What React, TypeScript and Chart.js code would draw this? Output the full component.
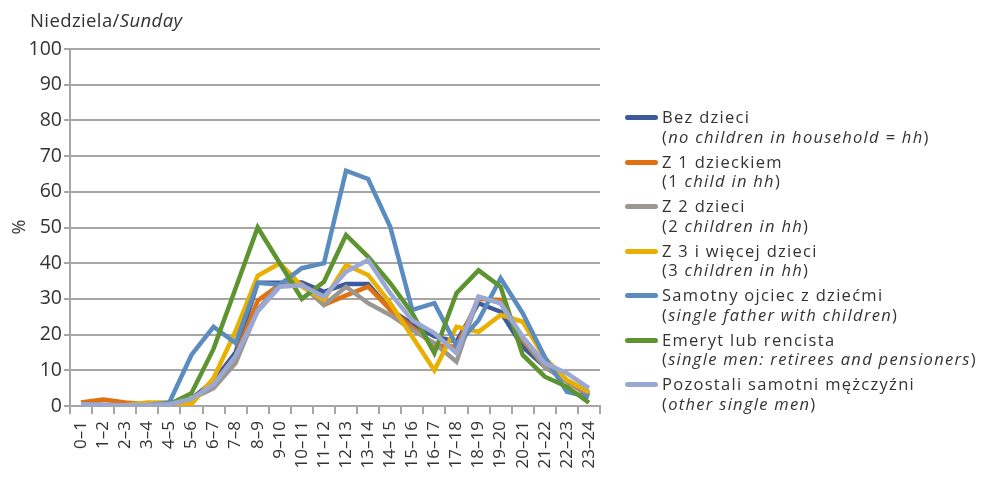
import React, { useEffect, useRef } from "react";
import { Chart, registerables } from "chart.js";

Chart.register(...registerables);

const categories = [
  "0–1", "1–2", "2–3", "3–4", "4–5", "5–6", "6–7", "7–8", "8–9", "9–10", "10–11", "11–12",
  "12–13", "13–14", "14–15", "15–16", "16–17", "17–18", "18–19", "19–20", "20–21", "21–22", "22–23", "23–24",
];

const bezDzieci = [0.5, 0.3, 0.2, 0.3, 0.5, 2, 7, 15, 34.5, 34.5, 34.6, 32, 34.2, 34.2, 27, 23, 19.5, 18, 28.8, 26.4, 16.6, 11, 7, 3];
const z1Dzieckiem = [1, 1.8, 1, 0.5, 0.5, 2, 6, 14, 29.5, 34, 34, 28.3, 31, 33.4, 27, 22, 17, 16.6, 30, 29.7, 18.5, 11, 7, 3];
const z2Dzieci = [0.5, 0.3, 0.2, 0.3, 0.5, 2, 5, 12, 27, 34, 34, 28.3, 33.4, 28.8, 25.5, 21.3, 17.6, 12.4, 30.6, 28.8, 19, 11, 7, 3.5];
const z3Dzieci = [0.5, 0.2, 0.2, 1, 1, 0.5, 7.8, 21, 36.5, 40, 33.5, 29.7, 39.5, 36.7, 28.8, 19.4, 10, 22.2, 20.8, 25.5, 23.6, 13.4, 7.3, 4];
const samotnyOjciec = [0.5, 0.2, 0.2, 0.2, 1, 14.3, 22.2, 17.6, 34.5, 34, 38.6, 40, 65.9, 63.6, 50.2, 26.9, 28.8, 17, 24, 35.8, 26, 13.7, 4, 2.5];
const emeryt = [0, 0, 0, 0, 0.5, 3.6, 16, 33, 50, 40, 30, 34.8, 47.9, 41.8, 34.4, 26, 14.8, 31.6, 38, 33.4, 14.3, 8.2, 5.4, 0.9];
const pozostali = [0.5, 0.3, 0.2, 0.3, 0.5, 2, 6, 14, 26.5, 33.4, 33.8, 30.6, 37.6, 40.9, 31.6, 24, 20.4, 14.8, 30.6, 28.8, 19.4, 12, 9.2, 5];

const yTicks = [0, 10, 20, 30, 40, 50, 60, 70, 80, 90, 100];

const seriesColors = ["#3d5a9a", "#e07010", "#9a9692", "#e8b000", "#5b8cbf", "#5e9430", "#9ba8d4"];

const FONT = "'Open Sans', 'Noto Sans', sans-serif";
const TEXT = "#333333";
const GRID = "#a6a6a6";

const legendItems: { pl: string; en: React.ReactNode }[] = [
  { pl: "Bez dzieci", en: <>(<i>no children in household = hh</i>)</> },
  { pl: "Z 1 dzieckiem", en: <>(1 <i>child in hh</i>)</> },
  { pl: "Z 2 dzieci", en: <>(2 <i>children in hh</i>)</> },
  { pl: "Z 3 i więcej dzieci", en: <>(3 <i>children in hh</i>)</> },
  { pl: "Samotny ojciec z dziećmi", en: <>(<i>single father with children</i>)</> },
  { pl: "Emeryt lub rencista", en: <>(<i>single men: retirees and pensioners</i>)</> },
  { pl: "Pozostali samotni mężczyźni", en: <>(<i>other single men</i>)</> },
];

export default function App() {
  const ref = useRef<HTMLCanvasElement | null>(null);

  useEffect(() => {
    document.body.style.margin = "0";
    const canvas = ref.current;
    if (!canvas) return;
    const series = [bezDzieci, z1Dzieckiem, z2Dzieci, z3Dzieci, samotnyOjciec, emeryt, pozostali];
    const chart = new Chart(canvas, {
      type: "line",
      data: {
        labels: categories,
        datasets: series.map((d, i) => ({
          label: legendItems[i].pl,
          data: d,
          borderColor: seriesColors[i],
          backgroundColor: seriesColors[i],
          borderWidth: 4.5,
          pointRadius: 0,
          tension: 0,
          fill: false,
          order: 10 - i,
        })),
      },
      options: {
        animation: false,
        responsive: false,
        maintainAspectRatio: false,
        layout: { padding: { left: 0, top: 49, right: 383, bottom: 0 } },
        plugins: { legend: { display: false }, tooltip: { enabled: false }, title: { display: false } },
        scales: {
          x: {
            type: "category",
            offset: true,
            grid: { offset: true, drawOnChartArea: false, drawTicks: true, tickLength: 8, color: GRID, lineWidth: 2 },
            border: { display: true, color: GRID, width: 2 },
            ticks: {
              autoSkip: false,
              minRotation: 90,
              maxRotation: 90,
              padding: 7,
              color: TEXT,
              font: { family: FONT, size: 17 },
            },
            afterFit: (s: any) => { s.height = 71; },
          },
          y: {
            min: 0,
            max: 100,
            afterBuildTicks: (s: any) => { s.ticks = yTicks.map((v) => ({ value: v })); },
            grid: { color: GRID, lineWidth: 2, tickLength: 6, drawTicks: true },
            border: { display: true, color: GRID, width: 2 },
            ticks: { color: TEXT, padding: 2, font: { family: FONT, size: 19.5 } },
            afterFit: (s: any) => { s.width = 70; },
          },
        },
      },
    });
    return () => chart.destroy();
  }, []);

  return (
    <div style={{ position: "relative", width: 983, height: 477, fontFamily: FONT, color: TEXT }}>
      <canvas ref={ref} width={983} height={477} style={{ position: "absolute", left: 0, top: 0 }} />
      <div style={{ position: "absolute", left: 30, top: 7, fontSize: 18.5, letterSpacing: 0.4, lineHeight: "26px", whiteSpace: "nowrap" }}>
        Niedziela/<i>Sunday</i>
      </div>
      <div
        style={{
          position: "absolute",
          left: 5,
          top: 214,
          fontSize: 18,
          lineHeight: "26px",
          transform: "rotate(-90deg)",
          transformOrigin: "center",
          width: 26,
          textAlign: "center",
        }}
      >
        %
      </div>
      {legendItems.map((it, i) => (
        <div key={i} style={{ position: "absolute", left: 625, top: 106 + i * 44.5, whiteSpace: "nowrap", fontSize: 16.5, letterSpacing: 1.3 }}>
          <div style={{ position: "absolute", left: 0, top: 9, width: 33, height: 5, borderRadius: 2.5, background: seriesColors[i] }} />
          <div style={{ position: "absolute", left: 37, top: 0, lineHeight: "22px" }}>{it.pl}</div>
          <div style={{ position: "absolute", left: 37, top: 19.5, lineHeight: "22px" }}>{it.en}</div>
        </div>
      ))}
    </div>
  );
}
